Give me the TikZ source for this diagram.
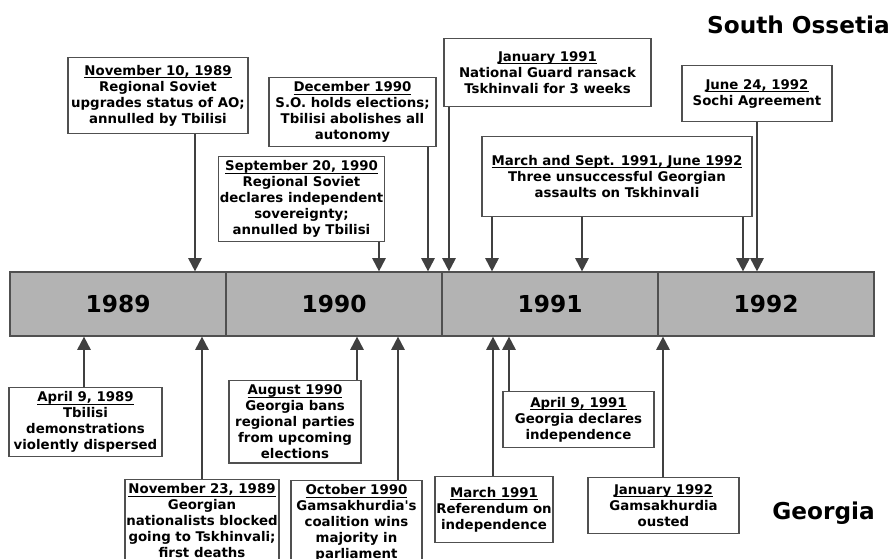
\documentclass[tikz,border=0pt]{standalone}
\usepackage{fontspec}
\setmainfont{DejaVu Sans}
\usetikzlibrary{arrows.meta}
\definecolor{boxline}{HTML}{505050}
\definecolor{arrowcol}{HTML}{404040}
\definecolor{barfill}{HTML}{B3B3B3}
\newcommand\dateline[1]{\underline{\vphantom{Adl}\smash{#1}}}
\begin{document}
\begin{tikzpicture}[x=0.75pt,y=-0.75pt,
  evbox/.style={draw=boxline, line width=0.9pt, fill=white, align=center,
    font=\bfseries\fontsize{10}{12}\selectfont, inner xsep=1pt, inner ysep=3pt, anchor=north},
  yearcell/.style={draw=boxline, line width=0.9pt, fill=barfill, minimum width=162pt,
    minimum height=48pt, font=\bfseries\fontsize{17.5}{20}\selectfont, inner sep=0pt},
  arr/.style={draw=arrowcol, line width=1.5pt, -{Triangle[width=10pt,length=10pt]}},
  region/.style={font=\bfseries\fontsize{17.4}{20}\selectfont, anchor=east, inner sep=0pt}]
\clip (0,0) rectangle (892,558);
\fill[white] (0,0) rectangle (892,558);

% timeline bar
\node[yearcell] (c1) at (118,304) {1989};
\node[yearcell] (c2) at (334,304) {1990};
\node[yearcell] (c3) at (550,304) {1991};
\node[yearcell] (c4) at (766,304) {1992};

% region labels
\node[region] (so) at (890,25) {South Ossetia};
\node[region] (ge) at (875,513) {Georgia};

% top events (South Ossetia)
\node[evbox, minimum width=135pt, minimum height=57pt] (n1) at (158,57)
  {\dateline{November 10, 1989}\\Regional Soviet\\upgrades status of AO;\\annulled by Tbilisi};
\node[evbox, minimum width=125.25pt, minimum height=51pt] (n2) at (352.5,77)
  {\dateline{December 1990}\\S.O. holds elections;\\Tbilisi abolishes all\\autonomy};
\node[evbox, minimum width=122.25pt, minimum height=60.75pt] (n3) at (301.5,156)
  {\dateline{September 20, 1990}\\Regional Soviet\\declares independent\\sovereignty;\\annulled by Tbilisi};
\node[evbox, minimum width=155.25pt, minimum height=51pt] (n4) at (547.5,38)
  {\dateline{January 1991}\\National Guard ransack\\Tskhinvali for 3 weeks};
\node[evbox, minimum width=112.5pt, minimum height=42pt] (n5) at (757,65)
  {\dateline{June 24, 1992}\\Sochi Agreement};
\node[evbox, minimum width=202.5pt, minimum height=60pt] (n6) at (617,136)
  {\dateline{March and Sept. 1991, June 1992}\\Three unsuccessful Georgian\\assaults on Tskhinvali};

% bottom events (Georgia)
\node[evbox, minimum width=114.75pt, minimum height=49.5pt] (m1) at (85.5,387)
  {\dateline{April 9, 1989}\\Tbilisi\\demonstrations\\violently dispersed};
\node[evbox, minimum width=114pt] (m2) at (202,479)
  {\dateline{November 23, 1989}\\Georgian\\nationalists blocked\\going to Tskhinvali;\\first deaths};
\node[evbox, minimum width=99pt, minimum height=60.75pt] (m3) at (295,380)
  {\dateline{August 1990}\\Georgia bans\\regional parties\\from upcoming\\elections};
\node[evbox, minimum width=98.25pt] (m4) at (356.5,480)
  {\dateline{October 1990}\\Gamsakhurdia\textquotesingle s\\coalition wins\\majority in\\parliament};
\node[evbox, minimum width=87pt, minimum height=49.5pt] (m5) at (494,476)
  {\dateline{March 1991}\\Referendum on\\independence};
\node[evbox, minimum width=113.25pt, minimum height=42pt] (m6) at (578.5,391)
  {\dateline{April 9, 1991}\\Georgia declares\\independence};
\node[evbox, minimum width=113.25pt, minimum height=42pt] (m7) at (663.5,477)
  {\dateline{January 1992}\\Gamsakhurdia\\ousted};

% arrow x positions
\coordinate (a1) at (195,0);
\coordinate (a2) at (379,0);
\coordinate (a3) at (428,0);
\coordinate (a4) at (449,0);
\coordinate (a5) at (492,0);
\coordinate (a6) at (582,0);
\coordinate (a7) at (743,0);
\coordinate (a8) at (757,0);
\coordinate (b1) at (84,0);
\coordinate (b2) at (202,0);
\coordinate (b3) at (357,0);
\coordinate (b4) at (398,0);
\coordinate (b5) at (493,0);
\coordinate (b6) at (509,0);
\coordinate (b7) at (663,0);

% arrows down to the bar
\draw[arr] (n1.south -| a1) -- (c1.north -| a1);
\draw[arr] (n3.south -| a2) -- (c2.north -| a2);
\draw[arr] (n2.south -| a3) -- (c2.north -| a3);
\draw[arr] (n4.south -| a4) -- (c3.north -| a4);
\draw[arr] (n6.south -| a5) -- (c3.north -| a5);
\draw[arr] (n6.south -| a6) -- (c3.north -| a6);
\draw[arr] (n6.south -| a7) -- (c4.north -| a7);
\draw[arr] (n5.south -| a8) -- (c4.north -| a8);

% arrows up to the bar
\draw[arr] (m1.north -| b1) -- (c1.south -| b1);
\draw[arr] (m2.north -| b2) -- (c1.south -| b2);
\draw[arr] (m3.north -| b3) -- (c2.south -| b3);
\draw[arr] (m4.north -| b4) -- (c2.south -| b4);
\draw[arr] (m5.north -| b5) -- (c3.south -| b5);
\draw[arr] (m6.north -| b6) -- (c3.south -| b6);
\draw[arr] (m7.north -| b7) -- (c4.south -| b7);
\end{tikzpicture}
\end{document}
